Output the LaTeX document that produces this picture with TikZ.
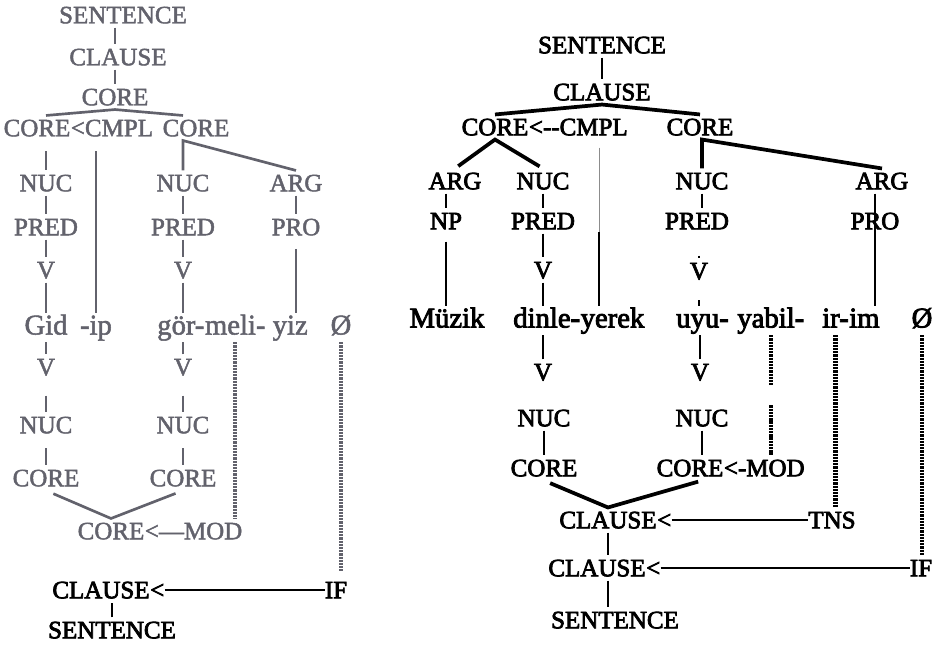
\documentclass[tikz,border=0pt]{standalone}
\usepackage{fontspec}
\setmainfont{Liberation Serif}
\newfontfamily\inkfont{Liberation Serif}[Ligatures=TeX, FakeBold=3]
\newfontfamily\fadefont{Liberation Serif}[Ligatures=TeX, FakeBold=1.8]
\usetikzlibrary{positioning}
\definecolor{scangray}{RGB}{98,98,108}
\tikzset{
	lab/.style={font=\inkfont\fontsize{18.75}{20}\selectfont, inner xsep=0pt, inner ysep=3pt, text height=12.4pt, text depth=0pt},
	wrd/.style={font=\inkfont\fontsize{21.5}{24}\selectfont, inner xsep=0pt, inner ysep=1pt, text height=15pt, text depth=4.5pt},
	llab/.style={lab, font=\fadefont\fontsize{18.75}{20}\selectfont},
	lwrd/.style={wrd, font=\fadefont\fontsize{21.5}{24}\selectfont},
	edge/.style={line width=1.8pt},
	thinedge/.style={line width=0.7pt, color=black!45},
	roof/.style={line width=2.8pt},
	dots/.style={line width=3.2pt, dash pattern=on 1.7pt off 0.7pt},
	ledge/.style={line width=1.2pt},
	lroof/.style={line width=2pt}
}
\begin{document}
\begin{tikzpicture}[x=0.75pt,y=0.75pt,yscale=-1,xscale=1]
	\useasboundingbox (0,0) rectangle (935,644);
	\begin{scope}[color=scangray]
	\node[llab] (sentL) at (123,15) {SENTENCE};
	\node[llab] (clauseL) at (118,57) {CLAUSE};
	\node[llab] (coreL) at (115,97) {CORE};
	\node[llab] (coreL1) at (37,128) {CORE};
	\node[llab, right=0pt of coreL1] (cmplL) {<CMPL};
	\node[llab] (coreL2) at (196,128) {CORE};
	\node[llab] (nucL1) at (46,183) {NUC};
	\node[llab] (nucL2) at (183,183) {NUC};
	\node[llab] (argL) at (296,183) {ARG};
	\node[llab] (predL1) at (46,227) {PRED};
	\node[llab] (predL2) at (183,227) {PRED};
	\node[llab] (proL) at (296,227) {PRO};
	\node[llab] (vL1) at (46,270) {V};
	\node[llab] (vL2) at (183,270) {V};
	\node[lwrd] (gidL) at (46,327.5) {Gid};
	\node[lwrd, right=9pt of gidL] (ipL) {-ip};
	\node[lwrd, anchor=west] (gorL) at (157,327.5) {gör-};
	\node[lwrd, right=0pt of gorL] (meliL) {meli-};
	\node[lwrd, right=5pt of meliL] (yizL) {yiz};
	\node[lwrd] (zeroL) at (341,327.5) {Ø};
	\node[llab] (vL1b) at (46,367) {V};
	\node[llab] (nucL1b) at (46,425) {NUC};
	\node[llab] (coreL1b) at (46,478) {CORE};
	\node[llab] (vL2b) at (183,367) {V};
	\node[llab] (nucL2b) at (183,425) {NUC};
	\node[llab] (coreL2b) at (183,478) {CORE};
	\node[llab] (coreM) at (111,531) {CORE};
	\node[llab, right=0pt of coreM] (modL) {<—MOD};

	\draw[ledge] (sentL.south -| coreL) -- (clauseL.north -| coreL);
	\draw[ledge] (clauseL.south -| coreL) -- (coreL.north);
	\draw[lroof] (coreL1.north -| nucL1) -- (coreL.south) -- (coreL2.north -| nucL2);
	\draw[ledge, shorten <=8pt] (coreL1.south -| nucL1) -- (nucL1.north);
	\draw[ledge, shorten <=8pt] (cmplL.south -| ipL) -- (ipL.north);
	\draw[lroof] (nucL2.north) -- (nucL2 |- coreL2.south) -- (argL.north);
	\draw[ledge] (nucL1) -- (predL1);
	\draw[ledge] (predL1) -- (vL1);
	\draw[ledge] (vL1) -- (gidL);
	\draw[ledge] (nucL2) -- (predL2);
	\draw[ledge] (predL2) -- (vL2);
	\draw[ledge] (vL2.south) -- (vL2.south |- gorL.north);
	\draw[ledge] (argL) -- (proL);
	\draw[ledge, shorten <=7pt] (proL.south) -- (proL.south |- yizL.north);
	\draw[ledge] (gidL) -- (vL1b);
	\draw[ledge, shorten <=12pt] (vL1b) -- (nucL1b);
	\draw[ledge, shorten <=8pt] (nucL1b) -- (coreL1b);
	\draw[ledge] (vL2b.north) -- (vL2b.north |- gorL.south);
	\draw[ledge, shorten <=12pt] (vL2b) -- (nucL2b);
	\draw[ledge, shorten <=8pt] (nucL2b) -- (coreL2b);
	\draw[lroof, shorten <=6pt, shorten >=6pt] (coreL1b.south) -- (coreM.north) -- (coreL2b.south);
	\draw[dots] (meliL.south) -- (meliL.south |- modL.north);
	\end{scope}
	\node[lab] (clauseL3) at (101,590) {CLAUSE};
	\node[lab, right=0pt of clauseL3] (ltL) {<};
	\node[lab] (ifL) at (336,590) {IF};
	\node[lab] (sentL2) at (112,630) {SENTENCE};
	\draw[dots, color=scangray, shorten >=5pt] (zeroL.south) -- (zeroL.south |- ifL.north);
	\draw[edge] (ltL.east) -- (ifL.west);
	\draw[edge] (sentL2.north) -- (sentL2.north |- clauseL3.south);

	\node[lab] (sentR) at (602,45) {SENTENCE};
	\node[lab] (clauseR) at (602,92) {CLAUSE};
	\node[lab] (coreR1) at (495,127) {CORE};
	\node[lab, right=0pt of coreR1] (cmplR) {<-{}-CMPL};
	\node[lab] (coreR2) at (700,127) {CORE};
	\node[lab] (argR1) at (455,181) {ARG};
	\node[lab] (nucR1) at (543,181) {NUC};
	\node[lab] (nucR2) at (702,181) {NUC};
	\node[lab] (argR2) at (882,181) {ARG};
	\node[lab] (npR) at (446,221) {NP};
	\node[lab] (predR1) at (543,221) {PRED};
	\node[lab] (predR2) at (697,221) {PRED};
	\node[lab] (proR) at (875,221) {PRO};
	\node[lab] (vR1) at (543,270) {V};
	\node[lab] (vR2) at (699,271) {V};
	\node[wrd] (muzikR) at (447,320.5) {Müzik};
	\node[wrd, anchor=west] (dinleR) at (513,320.5) {dinle-};
	\node[wrd, right=0pt of dinleR] (yerekR) {yerek};
	\node[wrd, anchor=west] (uyuR) at (676,320.5) {uyu-};
	\node[wrd, right=6pt of uyuR] (yabilR) {yabil-};
	\node[wrd, anchor=west] (irR) at (822,320.5) {ir-};
	\node[wrd, right=0pt of irR] (imR) {im};
	\node[wrd] (zeroR) at (922,320.5) {Ø};
	\node[lab] (vR1b) at (543,372) {V};
	\node[lab] (vR2b) at (700,372) {V};
	\node[lab] (nucR1b) at (544,418) {NUC};
	\node[lab] (nucR2b) at (702,418) {NUC};
	\node[lab] (coreR1b) at (544,468) {CORE};
	\node[lab] (coreR2b) at (690,468) {CORE};
	\node[lab, right=0pt of coreR2b] (modR) {<-MOD};
	\node[lab] (clauseR2) at (608,520) {CLAUSE};
	\node[lab, right=0pt of clauseR2] (ltR2) {<};
	\node[lab] (tnsR) at (832,520) {TNS};
	\node[lab] (clauseR3) at (597,568) {CLAUSE};
	\node[lab, right=0pt of clauseR3] (ltR3) {<};
	\node[lab] (ifR) at (921,568) {IF};
	\node[lab] (sentR2) at (615,620) {SENTENCE};
	\coordinate (cmplJoin) at (599,232);

	\draw[edge] (sentR) -- (clauseR);
	\draw[roof] (coreR1.north) -- (clauseR.south) -- (coreR2.north);
	\draw[roof, shorten <=3pt, shorten >=3pt] (argR1.north) -- (coreR1.south) -- (nucR1.north);
	\draw[thinedge, shorten <=6pt] (cmplR.south -| cmplJoin) -- (cmplJoin);
	\draw[edge] (cmplJoin) -- (cmplJoin |- yerekR.north);
	\draw[roof] (nucR2.north) -- (nucR2 |- coreR2.south) -- (argR2.north);
	\draw[edge] (argR1.south -| npR) -- (npR);
	\draw[edge] (nucR1) -- (predR1);
	\draw[edge] (nucR2.south) -- (nucR2.south |- predR2.north);
	\draw[edge] (predR1) -- (vR1);
	\draw[edge] (vR1.south) -- (vR1.south |- dinleR.north);
	\draw[edge, shorten <=6pt] (npR.south) -- (npR.south |- muzikR.north);
	\draw[edge, shorten <=16.5pt] (predR2.south -| vR2) -- (vR2.north);
	\draw[edge, shorten <=12.5pt] (vR2.south) -- (vR2.south |- uyuR.north);
	\draw[edge, line width=2.2pt] (argR2.south -| proR) -- (proR |- imR.north);
	\draw[edge] (vR1b.north) -- (vR1b.north |- dinleR.south);
	\draw[edge] (vR2b.north) -- (vR2b.north |- uyuR.south);
	\draw[edge] (nucR1b) -- (coreR1b);
	\draw[edge] (nucR2b.south) -- (nucR2b.south |- coreR2b.north);
	\draw[roof, shorten <=5pt, shorten >=3pt] (coreR1b.south) -- (clauseR2.north) -- (coreR2b.south -| nucR2b);
	\draw[dots] (yabilR.south) -- (yabilR.south |- vR2b.south);
	\draw[dots] (nucR2b.north -| yabilR) -- (yabilR |- modR.north);
	\draw[dots] (irR.south) -- (irR.south |- tnsR.north);
	\draw[dots] (zeroR.south) -- (zeroR.south |- ifR.north);
	\draw[edge] (ltR2.east) -- (tnsR.west);
	\draw[edge] (ltR3.east) -- (ifR.west);
	\draw[edge] (clauseR2.south) -- (clauseR2.south |- clauseR3.north);
	\draw[edge] (clauseR3.south -| clauseR2) -- (sentR2.north -| clauseR2);
\end{tikzpicture}
\end{document}
